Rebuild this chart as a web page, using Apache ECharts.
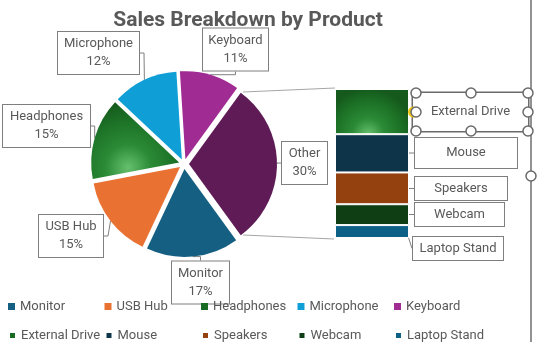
<!DOCTYPE html>
<html><head><meta charset="utf-8">
<script src="https://cdn.jsdelivr.net/npm/echarts@6/dist/echarts.min.js"></script>
<style>html,body{margin:0;padding:0;background:#fff}#c{width:537px;height:342px}</style>
</head><body><div id="c"></div>
<script>
// ---- data ----
const pieCategories = ['Monitor', 'USB Hub', 'Headphones', 'Microphone', 'Keyboard'];
const pieValues = [17, 15, 15, 12, 11];
const otherName = 'Other';
const otherCategories = ['External Drive', 'Mouse', 'Speakers', 'Webcam', 'Laptop Stand'];
const otherValues = [9.1, 7.7, 6.4, 4.2, 2.6];

// ---- styles / layout (not data) ----
const FONT = 'Roboto';
const TXT = '#595959';
const BOX = '#7f7f7f';
function greenGlow(x, y, r) {
  return new echarts.graphic.RadialGradient(x, y, r, [
    {offset: 0, color: '#66c06e'},
    {offset: 0.35, color: '#2b8b36'},
    {offset: 0.7, color: '#1d7327'},
    {offset: 1, color: '#155a1c'}
  ]);
}
const pieColors = ['#156082', '#E97132', greenGlow(0.42, 0.85, 0.85), '#0F9ED5', '#A02B93', '#5E1B56'];
const barColors = [greenGlow(0.45, 1.0, 1.0), '#0D3449', '#95400F', '#0F3D14', '#0E6186'];
const legendPieColors = ['#156082', '#E97132', '#196B24', '#0F9ED5', '#A02B93'];
const legendBarColors = ['#196B24', '#0D3449', '#95400F', '#0F3D14', '#0E6186'];
const PIE_CX = 184, PIE_CY = 164, PIE_R = 88, EXPLODE = 5, START = -54;
// label box centres and widths
const pieLabelPos = [[200.5, 282.5, 43], [71, 236, 50], [46.5, 126, 73], [98.5, 53, 67], [235.5, 49.5, 51], [304.5, 163, 31]];
const barLabelPos = [[470.5, 112, 101, 10.5], [466, 153, 88, 6.5], [461, 188.5, 78, 3], [459.5, 214.5, 75, 3], [458, 248.5, 76, 3]];
const legendCols = [8, 104.5, 201, 297.5, 394];
const legendRows = [300, 329];

const otherTotal = otherValues.reduce((a, b) => a + b, 0);
const allNames = pieCategories.concat([otherName]);
const allValues = pieValues.concat([otherTotal]);
const grand = allValues.reduce((a, b) => a + b, 0);

// one pie series per slice, each shifted outward (exploded pie)
const pieSeries = [];
let cum = 0;
allNames.forEach((nm, i) => {
  const mid = (START - (cum + allValues[i] / 2) / grand * 360) * Math.PI / 180;
  cum += allValues[i];
  const cx = PIE_CX + EXPLODE * Math.cos(mid);
  const cy = PIE_CY - EXPLODE * Math.sin(mid);
  pieSeries.push({
    type: 'pie', name: 'Sales' + i, center: [cx, cy], radius: PIE_R,
    startAngle: START, clockwise: true, avoidLabelOverlap: false, percentPrecision: 0,
    emphasis: {disabled: true}, silent: true,
    label: {
      show: true, formatter: '{b}\n{d}%', fontFamily: FONT, fontSize: 13, color: TXT,
      lineHeight: 18, align: 'center', backgroundColor: '#fff', borderColor: BOX, borderWidth: 1,
      padding: [3, 7, 3, 7], width: pieLabelPos[i][2], overflow: 'none'
    },
    labelLine: {show: true, length: 4, length2: 4, lineStyle: {color: BOX, width: 1}},
    labelLayout: function (p) {
      if (p.dataIndex !== i) return {};
      return {x: pieLabelPos[i][0], y: pieLabelPos[i][1], align: 'center', verticalAlign: 'middle'};
    },
    data: allNames.map((n, j) => j === i
      ? {name: n, value: allValues[j], itemStyle: {color: pieColors[j]}}
      : {name: n, value: allValues[j], itemStyle: {color: 'rgba(0,0,0,0)'}, label: {show: false}, labelLine: {show: false}})
  });
});

const barSeries = otherCategories.map((n, i) => ({
  name: n, type: 'bar', stack: 'other', barWidth: '100%',
  data: [otherValues[i]],
  itemStyle: {color: barColors[i], borderColor: '#ffffff', borderWidth: 1},
  label: {
    show: true, position: 'right', formatter: '{a}',
    fontFamily: FONT, fontSize: 13, color: TXT, lineHeight: 17,
    backgroundColor: '#fff', borderColor: i === 0 ? '#6a6a6a' : BOX, borderWidth: i === 0 ? 1.5 : 1,
    width: barLabelPos[i][2], align: 'center', overflow: 'none',
    padding: [barLabelPos[i][3], 7, barLabelPos[i][3], 7]
  },
  labelLine: {show: true, lineStyle: {color: BOX, width: 1}},
  labelLayout: function () {
    return {x: barLabelPos[i][0], y: barLabelPos[i][1], align: 'center', verticalAlign: 'middle'};
  },
  emphasis: {disabled: true}
}));

// one legend component per entry so the columns line up like the reference
const legends = [];
[[pieCategories, legendPieColors], [otherCategories, legendBarColors]].forEach((grp, r) => {
  grp[0].forEach((n, c) => {
    legends.push({
      left: legendCols[c], top: legendRows[r], padding: 0, orient: 'horizontal',
      icon: 'rect', itemWidth: 7, itemHeight: 7, selectedMode: false,
      textStyle: {fontFamily: FONT, fontSize: 13, color: TXT},
      data: [{name: n, itemStyle: {color: grp[1][c]}}]
    });
  });
});

const handles = [[416, 93], [471, 93], [528, 93], [416, 112], [528, 112], [416, 131], [471, 131], [528, 131], [531, 176]];

const option = {
  animation: false,
  backgroundColor: '#fff',
  textStyle: {fontFamily: FONT},
  title: {
    text: 'Sales Breakdown by Product', left: 248, top: 10, padding: 0, textAlign: 'center',
    textStyle: {fontFamily: FONT, fontWeight: 'bold', fontSize: 21, color: TXT}
  },
  legend: legends,
  grid: {left: 335, top: 89, width: 74, height: 149},
  xAxis: {type: 'category', data: [otherName], show: false},
  yAxis: {type: 'value', min: 0, max: otherTotal, inverse: true, show: false},
  series: pieSeries.concat(barSeries),
  graphic: [
    {type: 'line', shape: {x1: 243, y1: 92, x2: 335, y2: 88}, style: {stroke: '#a6a6a6', lineWidth: 1}},
    {type: 'line', shape: {x1: 243, y1: 235, x2: 334, y2: 239}, style: {stroke: '#a6a6a6', lineWidth: 1}},
    {type: 'line', shape: {x1: 531, y1: 0, x2: 531, y2: 342}, style: {stroke: '#6e6e6e', lineWidth: 1.5}, z: 50},
    {type: 'circle', shape: {cx: 413.5, cy: 112, r: 5.5}, style: {fill: '#f2c811'}, z: 59}
  ].concat(handles.map(h => ({type: 'circle', shape: {cx: h[0], cy: h[1], r: 5}, style: {fill: '#fff', stroke: '#6a6a6a', lineWidth: 1.5}, z: 60})))
};

const chart = echarts.init(document.getElementById('c'), null, {renderer: 'canvas'});
chart.setOption(option);
</script></body></html>
